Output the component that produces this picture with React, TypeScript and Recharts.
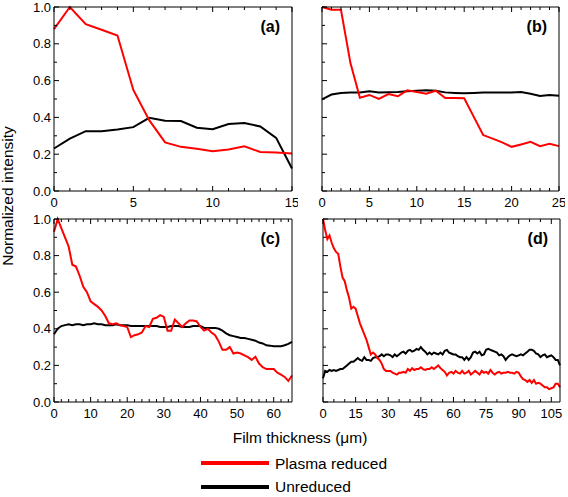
import { LineChart, Line, XAxis, YAxis } from 'recharts'

// Panel (a)
const thicknessA = [0, 1, 2, 3, 4, 5, 6, 7, 8, 9, 10, 11, 12, 13, 14, 15]
const plasmaA = [0.88, 1.0, 0.907, 0.876, 0.845, 0.549, 0.385, 0.264, 0.24, 0.229, 0.216, 0.225, 0.243, 0.212, 0.209, 0.204]
const unreducedA = [0.231, 0.285, 0.325, 0.325, 0.334, 0.347, 0.398, 0.382, 0.38, 0.344, 0.336, 0.364, 0.369, 0.351, 0.289, 0.122]

// Panel (b)
const thicknessB = [0, 1, 2, 3, 4, 5, 6, 7, 8, 9, 10, 11, 12, 13, 14, 15, 16, 17, 18, 19, 20, 21, 22, 23, 24, 25]
const plasmaB = [1.0, 0.985, 0.985, 0.695, 0.507, 0.522, 0.5, 0.527, 0.515, 0.547, 0.538, 0.529, 0.545, 0.505, 0.505, 0.504, 0.404, 0.304, 0.285, 0.264, 0.24, 0.253, 0.267, 0.244, 0.256, 0.244]
const unreducedB = [0.498, 0.524, 0.533, 0.535, 0.535, 0.542, 0.535, 0.537, 0.538, 0.542, 0.545, 0.547, 0.545, 0.536, 0.533, 0.531, 0.533, 0.535, 0.536, 0.536, 0.536, 0.538, 0.529, 0.516, 0.522, 0.518]

// Panel (c)
const thicknessC = [
  0, 1, 2, 3, 4, 5, 6, 7, 8, 9, 10, 11, 12, 13, 14, 15, 16, 17, 18, 19, 20, 21, 22, 23, 24, 25, 26, 27, 28, 29, 30, 31, 32,
  33, 34, 35, 36, 37, 38, 39, 40, 41, 42, 43, 44, 45, 46, 47, 48, 49, 50, 51, 52, 53, 54, 55, 56, 57, 58, 59, 60, 61, 62, 63, 64, 65,
]
const plasmaC = [
  0.93, 1.0, 0.95, 0.9, 0.85, 0.75, 0.74, 0.69, 0.63, 0.6, 0.55, 0.535, 0.52, 0.5, 0.47, 0.43, 0.425, 0.43, 0.42, 0.415, 0.41, 0.355,
  0.365, 0.37, 0.38, 0.415, 0.41, 0.455, 0.46, 0.475, 0.465, 0.39, 0.39, 0.45, 0.43, 0.41, 0.43, 0.445, 0.445, 0.44, 0.41, 0.39, 0.4,
  0.38, 0.365, 0.33, 0.285, 0.285, 0.3, 0.265, 0.27, 0.265, 0.255, 0.245, 0.23, 0.247, 0.21, 0.19, 0.18, 0.18, 0.18, 0.16, 0.15, 0.137,
  0.115, 0.145,
]
const unreducedC = [
  0.37, 0.4, 0.415, 0.42, 0.425, 0.42, 0.425, 0.425, 0.42, 0.425, 0.425, 0.43, 0.425, 0.425, 0.42, 0.42, 0.42, 0.425, 0.42, 0.42, 0.42,
  0.415, 0.415, 0.415, 0.415, 0.415, 0.415, 0.415, 0.415, 0.41, 0.41, 0.41, 0.415, 0.415, 0.415, 0.41, 0.41, 0.41, 0.415, 0.415, 0.415,
  0.405, 0.405, 0.405, 0.405, 0.4, 0.39, 0.375, 0.365, 0.36, 0.355, 0.35, 0.35, 0.345, 0.34, 0.335, 0.325, 0.32, 0.31, 0.308, 0.305,
  0.305, 0.305, 0.31, 0.318, 0.328,
]

// Panel (d), one sample per µm
const thicknessD = Array.from({ length: 110 }, (_, i) => i)
const plasmaD = [
  1.0, 0.94, 0.89, 0.91, 0.87, 0.84, 0.82, 0.81, 0.74, 0.68, 0.66, 0.61, 0.57, 0.51, 0.52, 0.51, 0.47, 0.43, 0.4, 0.37, 0.34, 0.3,
  0.26, 0.27, 0.26, 0.24, 0.23, 0.21, 0.18, 0.17, 0.17, 0.17, 0.16, 0.155, 0.15, 0.16, 0.16, 0.165, 0.16, 0.18, 0.17, 0.185, 0.175,
  0.18, 0.18, 0.19, 0.18, 0.175, 0.18, 0.18, 0.19, 0.18, 0.19, 0.2, 0.185, 0.175, 0.165, 0.145, 0.16, 0.165, 0.155, 0.17, 0.16,
  0.155, 0.17, 0.155, 0.16, 0.17, 0.15, 0.16, 0.17, 0.16, 0.15, 0.17, 0.16, 0.165, 0.155, 0.175, 0.16, 0.15, 0.16, 0.165, 0.155,
  0.16, 0.16, 0.165, 0.16, 0.16, 0.155, 0.165, 0.16, 0.14, 0.125, 0.12, 0.11, 0.12, 0.105, 0.12, 0.1, 0.105, 0.1, 0.09, 0.08, 0.08,
  0.07, 0.075, 0.08, 0.1, 0.1, 0.08,
]
const unreducedD = [
  0.13, 0.17, 0.165, 0.175, 0.17, 0.175, 0.17, 0.175, 0.18, 0.18, 0.19, 0.2, 0.21, 0.22, 0.22, 0.23, 0.24, 0.23, 0.225, 0.245, 0.23,
  0.23, 0.225, 0.24, 0.245, 0.245, 0.25, 0.26, 0.25, 0.26, 0.26, 0.255, 0.245, 0.26, 0.25, 0.26, 0.27, 0.275, 0.265, 0.28, 0.285,
  0.275, 0.28, 0.29, 0.285, 0.3, 0.285, 0.275, 0.26, 0.27, 0.26, 0.27, 0.265, 0.26, 0.27, 0.26, 0.28, 0.285, 0.27, 0.265, 0.26,
  0.26, 0.25, 0.245, 0.245, 0.23, 0.245, 0.23, 0.245, 0.27, 0.275, 0.265, 0.275, 0.255, 0.26, 0.285, 0.29, 0.285, 0.28, 0.275, 0.27,
  0.255, 0.26, 0.25, 0.23, 0.245, 0.255, 0.26, 0.255, 0.25, 0.255, 0.26, 0.255, 0.265, 0.275, 0.285, 0.285, 0.28, 0.265, 0.26, 0.245,
  0.255, 0.26, 0.245, 0.25, 0.255, 0.245, 0.23, 0.23, 0.2,
]

const yTicks = [0, 0.1, 0.2, 0.3, 0.4, 0.5, 0.6, 0.7, 0.8, 0.9, 1.0]

const RED = '#ff0000'
const BLACK = '#000000'
const FONT = '"Liberation Sans", Arial, sans-serif'

const range = (end: number, step: number) => {
  const out: number[] = []
  for (let v = 0; v <= end; v += step) out.push(v)
  return out
}

const isMajorY = (v: number) => Math.round(v * 10) % 2 === 0

interface PanelProps {
  left: number
  top: number
  width: number
  height: number
  xs: number[]
  plasma: number[]
  unreduced: number[]
  xMax: number
  xStep: number
  xMajor: number
  showYLabels: boolean
}

function Panel({ left, top, width, height, xs, plasma, unreduced, xMax, xStep, xMajor, showYLabels }: PanelProps) {
  const data = xs.map((x, i) => ({ x, plasma: plasma[i], unreduced: unreduced[i] }))
  const xTicks = range(xMax, xStep)
  const isMajorX = (v: number) => Math.round(v) % xMajor === 0

  const bottomTick = (p: any) => {
    const major = isMajorX(p.payload.value)
    return (
      <g>
        <line x1={p.x} y1={p.y} x2={p.x} y2={p.y - (major ? 5 : 3)} stroke={BLACK} />
        {major && (
          <text x={p.x} y={p.y + 15.5} textAnchor="middle" fontSize={13} fontFamily={FONT} fill={BLACK}>
            {p.payload.value}
          </text>
        )}
      </g>
    )
  }
  const topTick = (p: any) => {
    const major = isMajorX(p.payload.value)
    return <line x1={p.x} y1={p.y} x2={p.x} y2={p.y + (major ? 5 : 3)} stroke={BLACK} />
  }
  const leftTick = (p: any) => {
    const major = isMajorY(p.payload.value)
    return (
      <g>
        <line x1={p.x} y1={p.y} x2={p.x + (major ? 5 : 3)} y2={p.y} stroke={BLACK} />
        {showYLabels && major && (
          <text x={p.x - 3} y={p.y + 4.5} textAnchor="end" fontSize={13} fontFamily={FONT} fill={BLACK}>
            {p.payload.value.toFixed(1)}
          </text>
        )}
      </g>
    )
  }
  const rightTick = (p: any) => {
    const major = isMajorY(p.payload.value)
    return <line x1={p.x} y1={p.y} x2={p.x - (major ? 5 : 3)} y2={p.y} stroke={BLACK} />
  }

  return (
    <div style={{ position: 'absolute', left: left - 40, top: top - 6 }}>
      <LineChart width={width + 46} height={height + 32} data={data} margin={{ top: 0, right: 0, bottom: 0, left: 0 }}>
        <XAxis
          xAxisId="b"
          dataKey="x"
          type="number"
          domain={[0, xMax]}
          ticks={xTicks}
          interval={0}
          height={26}
          tickLine={false}
          tickSize={0}
          tickMargin={0}
          tick={bottomTick}
          stroke={BLACK}
        />
        <XAxis
          xAxisId="t"
          orientation="top"
          dataKey="x"
          type="number"
          domain={[0, xMax]}
          ticks={xTicks}
          interval={0}
          height={6}
          tickLine={false}
          tickSize={0}
          tickMargin={0}
          tick={topTick}
          stroke={BLACK}
        />
        <YAxis
          yAxisId="l"
          type="number"
          domain={[0, 1]}
          ticks={yTicks}
          interval={0}
          width={40}
          tickLine={false}
          tickSize={0}
          tickMargin={0}
          tick={leftTick}
          stroke={BLACK}
        />
        <YAxis
          yAxisId="r"
          orientation="right"
          type="number"
          domain={[0, 1]}
          ticks={yTicks}
          interval={0}
          width={6}
          tickLine={false}
          tickSize={0}
          tickMargin={0}
          tick={rightTick}
          stroke={BLACK}
        />
        <Line
          xAxisId="b"
          yAxisId="l"
          type="linear"
          dataKey="unreduced"
          stroke={BLACK}
          strokeWidth={2}
          dot={false}
          isAnimationActive={false}
        />
        <Line
          xAxisId="b"
          yAxisId="l"
          type="linear"
          dataKey="plasma"
          stroke={RED}
          strokeWidth={2}
          dot={false}
          isAnimationActive={false}
        />
      </LineChart>
    </div>
  )
}

export default function App() {
  return (
    <div
      style={{
        position: 'absolute',
        left: 0,
        top: 0,
        width: 568,
        height: 497,
        background: '#fff',
        fontFamily: FONT,
        overflow: 'hidden',
      }}
    >
      <Panel left={54} top={7} width={238} height={184} xs={thicknessA} plasma={plasmaA} unreduced={unreducedA} xMax={15} xStep={1} xMajor={5} showYLabels />
      <Panel left={322} top={7} width={237} height={184} xs={thicknessB} plasma={plasmaB} unreduced={unreducedB} xMax={25} xStep={1} xMajor={5} showYLabels={false} />
      <Panel left={54} top={219} width={238} height={183} xs={thicknessC} plasma={plasmaC} unreduced={unreducedC} xMax={65} xStep={2} xMajor={10} showYLabels />
      <Panel left={323} top={219} width={237} height={183} xs={thicknessD} plasma={plasmaD} unreduced={unreducedD} xMax={109} xStep={5} xMajor={15} showYLabels={false} />

      <svg width={568} height={497} style={{ position: 'absolute', left: 0, top: 0, pointerEvents: 'none' }}>
        <g fontFamily={FONT} fontWeight="bold" fontSize={16} fill={BLACK} textAnchor="end">
          <text x={280} y={32}>(a)</text>
          <text x={547} y={32}>(b)</text>
          <text x={280} y={244}>(c)</text>
          <text x={548} y={244}>(d)</text>
        </g>
        <text x={13} y={196} transform="rotate(-90 13 196)" textAnchor="middle" fontFamily={FONT} fontSize={15.5} fill={BLACK}>
          Normalized intensity
        </text>
        <text x={300} y={443} textAnchor="middle" fontFamily={FONT} fontSize={15.5} fill={BLACK}>
          Film thickness (μm)
        </text>
        <line x1={201} y1={463} x2={269} y2={463} stroke={RED} strokeWidth={4} />
        <text x={275} y={468.5} fontFamily={FONT} fontSize={15.5} fill={BLACK}>
          Plasma reduced
        </text>
        <line x1={201} y1={487} x2={269} y2={487} stroke={BLACK} strokeWidth={4} />
        <text x={275} y={492} fontFamily={FONT} fontSize={15.5} fill={BLACK}>
          Unreduced
        </text>
      </svg>
    </div>
  )
}
